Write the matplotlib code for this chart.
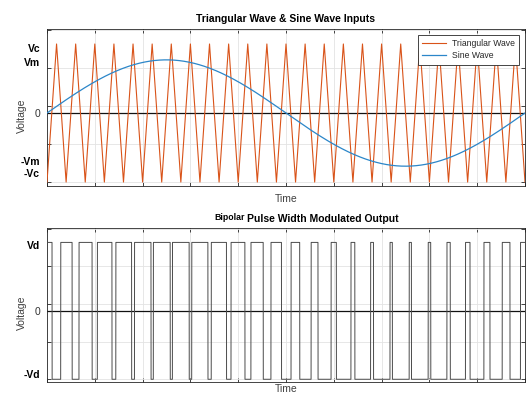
import numpy as np
import matplotlib.pyplot as plt

plt.rcParams['font.family'] = ['Liberation Sans', 'DejaVu Sans']

# waveform settings
carrier_cycles = 25
carrier_peak = 1.0
sine_peak = 0.77
pwm_level = 1.0

# gridlines / ticks (same on both panels)
grid_levels = [-1.0, -0.45, 0.1, 0.65, 1.2]
time_ticks = [0.0, 0.1, 0.2, 0.3, 0.4, 0.5, 0.6, 0.7, 0.8, 0.9, 1.0]

top_label_pos = [0.945, 0.74, 0.0, -0.70, -0.87]
top_labels = ['Vc', 'Vm', '0', '-Vm', '-Vc']
bot_label_pos = [0.96, 0.0, -0.93]
bot_labels = ['Vd', '0', '-Vd']

# triangle carrier as its corner points, starting at a trough
tri_t = np.arange(2 * carrier_cycles + 1) / (2 * carrier_cycles)
tri_v = np.where(np.arange(2 * carrier_cycles + 1) % 2 == 0, -carrier_peak, carrier_peak)

t = np.linspace(0, 1, 20001)
sine = sine_peak * np.sin(2 * np.pi * t)
tri_dense = np.interp(t, tri_t, tri_v)
pwm = np.where(sine >= tri_dense, pwm_level, -pwm_level)

grid_col = '#e3e3e3'
spine_col = '#262626'


def style_axes(ax, ylim, label_pos, labels, time_pad):
    ax.set_xlim(0, 1)
    ax.set_ylim(*ylim)
    ax.set_xticks(time_ticks)
    ax.set_xticklabels([])
    ax.set_yticks(label_pos)
    ax.set_yticklabels(labels)
    ax.set_yticks(grid_levels, minor=True)
    ax.tick_params(axis='y', which='major', length=0, pad=5, labelsize=7.5)
    ax.tick_params(axis='y', which='minor', direction='in', length=3,
                   left=True, right=True, color=spine_col, width=0.6)
    ax.tick_params(axis='x', direction='in', length=3, top=True, pad=0,
                   color=spine_col, width=0.6)
    ax.grid(True, axis='x', color=grid_col, lw=0.6)
    ax.grid(True, axis='y', which='minor', color=grid_col, lw=0.6)
    ax.grid(False, axis='y', which='major')
    for lab in ax.get_yticklabels():
        if lab.get_text() != '0':
            lab.set_fontweight('bold')
        else:
            lab.set_color('#333333')
    for s in ax.spines.values():
        s.set_color(spine_col)
        s.set_linewidth(0.6)
    ax.set_axisbelow(True)
    ax.axhline(0, color='#111111', lw=0.9, zorder=1)
    ax.set_ylabel('Voltage', fontsize=7.5, color='#404040')
    ax.yaxis.set_label_coords(-0.041, 0.45)
    ax.set_xlabel('Time', fontsize=7.5, color='#404040', labelpad=time_pad)


fig = plt.figure(figsize=(5.26, 3.96), dpi=100)
ax1 = fig.add_axes([47 / 526, 1 - 186 / 396, 478 / 526, 157 / 396])
ax2 = fig.add_axes([47 / 526, 1 - 382 / 396, 478 / 526, 154.3 / 396])

ax1.plot(tri_t, tri_v, color='#D95319', lw=0.8, label='Triangular Wave', zorder=3)
ax1.plot(t, sine, color='#2b86c9', lw=0.9, label='Sine Wave', zorder=4)
style_axes(ax1, (-1.057, 1.217), top_label_pos, top_labels, 5.5)
ax1.set_title('Triangular Wave & Sine Wave Inputs', fontsize=7.5,
              fontweight='bold', pad=5)
leg = ax1.legend(loc='upper right', fontsize=6.2, fancybox=False,
                 framealpha=1, edgecolor=spine_col, handlelength=2.8,
                 borderaxespad=0.7, borderpad=0.5, labelspacing=0.35,
                 handletextpad=0.6)
leg.get_frame().set_linewidth(0.6)
for txt in leg.get_texts():
    txt.set_color('#262626')

ax2.plot(t, pwm, color='#4a4a4a', lw=0.7, zorder=3)
style_axes(ax2, (-1.04, 1.215), bot_label_pos, bot_labels, 1.5)
ax2.text(0.418, 1.025, 'Pulse Width Modulated Output', transform=ax2.transAxes,
         ha='left', va='bottom', fontsize=7.5, fontweight='bold')
ax2.text(0.414, 1.04, 'Bipolar', transform=ax2.transAxes,
         ha='right', va='bottom', fontsize=6.3, fontweight='bold')

fig.savefig('out.png', dpi=100)
